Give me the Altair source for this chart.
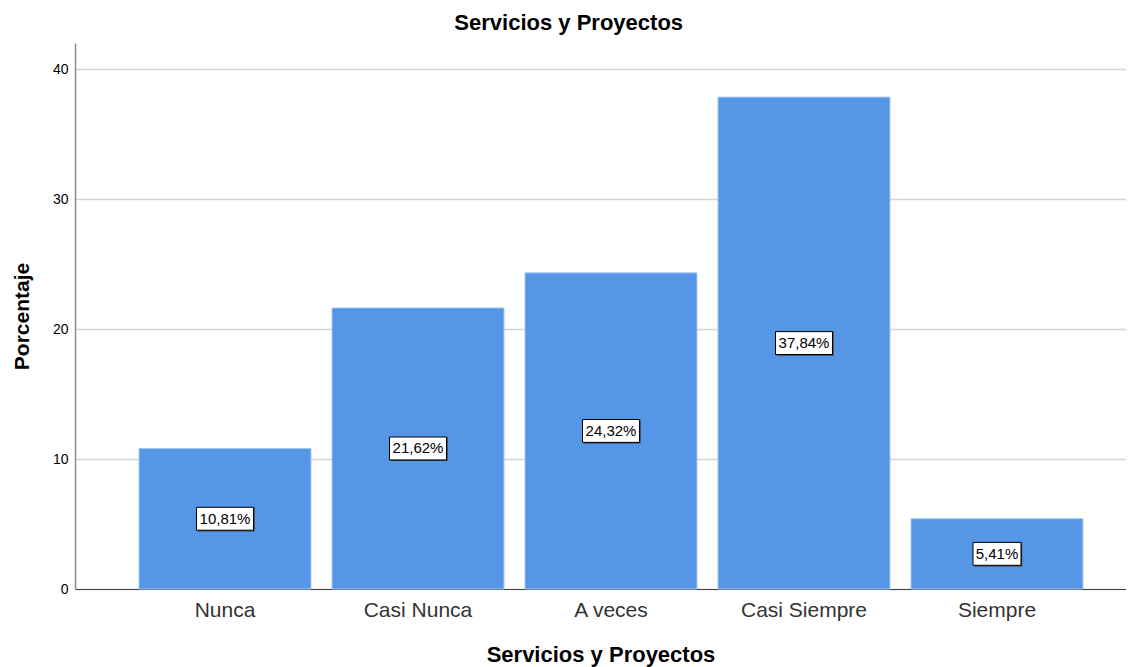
import altair as alt
import pandas as pd

categories = ["Nunca", "Casi Nunca", "A veces", "Casi Siempre", "Siempre"]
values = [10.81, 21.62, 24.32, 37.84, 5.41]
y_ticks = [0, 10, 20, 30, 40]

df = pd.DataFrame({"cat": categories, "pct": values})

FONT = "Liberation Sans, Arial, sans-serif"
BAR = "#5596E6"

PW = 1051
PH = 546

x_enc = alt.X(
    "cat:N",
    sort=categories,
    title="Servicios y Proyectos",
    scale=alt.Scale(paddingInner=0.1088, paddingOuter=0.2772, align=0.598, round=False),
    axis=alt.Axis(
        labelAngle=0,
        labelFontSize=21,
        labelColor="#333333",
        labelPadding=10,
        ticks=False,
        domainColor="#444444",
        domainWidth=1,
        grid=False,
        titleFontSize=22,
        titleFontWeight="bold",
        titleColor="#000000",
        titlePadding=24,
    ),
)

y_scale = alt.Scale(domain=[0, 42], nice=False)

bars = alt.Chart(df).mark_bar(color=BAR, stroke="#a9c9f2", strokeWidth=1).encode(
    x=x_enc,
    y=alt.Y(
        "pct:Q",
        title="Porcentaje",
        scale=y_scale,
        axis=alt.Axis(
            values=y_ticks,
            labelFontSize=14,
            labelColor="#000000",
            labelPadding=7,
            ticks=False,
            domainColor="#8c8c8c",
            domainWidth=1.5,
            gridColor="#d4d4d4",
            gridWidth=1.5,
            titleFontSize=21,
            titleFontWeight="bold",
            titleColor="#000000",
            titlePadding=20,
        ),
    ),
)

lab = alt.Chart(df).transform_calculate(
    mid="datum.pct / 2",
    lo="datum.pct / 2 - 0.88",
    hi="datum.pct / 2 + 0.88",
    label="replace(format(datum.pct, '.2f'), '.', ',') + '%'",
    nchar="length(replace(format(datum.pct, '.2f'), '.', ',') + '%')",
)


def boxes(n, w):
    base = lab.transform_filter(f"datum.nchar == {n}")
    shadow = base.mark_bar(width=w, color="#3a3a3a", xOffset=1.2, yOffset=1.2).encode(
        x=alt.X("cat:N", sort=categories), y=alt.Y("lo:Q", scale=y_scale), y2="hi:Q"
    )
    box = base.mark_bar(width=w, fill="white", stroke="#000000", strokeWidth=1).encode(
        x=alt.X("cat:N", sort=categories), y=alt.Y("lo:Q", scale=y_scale), y2="hi:Q"
    )
    return shadow + box


texts = lab.mark_text(fontSize=15, font=FONT, color="#000000", baseline="middle").encode(
    x=alt.X("cat:N", sort=categories),
    y=alt.Y("mid:Q", scale=y_scale),
    text="label:N",
)

chart = (
    alt.layer(bars, boxes(6, 57), boxes(5, 48), texts)
    .properties(
        width=PW,
        height=PH,
        autosize=alt.AutoSizeParams(type="none"),
        padding={"left": 67, "top": 35, "right": 0, "bottom": 80},
        title=alt.TitleParams(
            "Servicios y Proyectos",
            fontSize=22,
            fontWeight="bold",
            font=FONT,
            color="#000000",
            anchor="middle",
            frame="bounds",
            offset=8,
        ),
    )
    .configure(font=FONT)
    .configure_view(stroke=None)
    .configure_axis(labelFont=FONT, titleFont=FONT)
)

chart.save("out.html", embed_options={"renderer": "svg", "actions": False})
